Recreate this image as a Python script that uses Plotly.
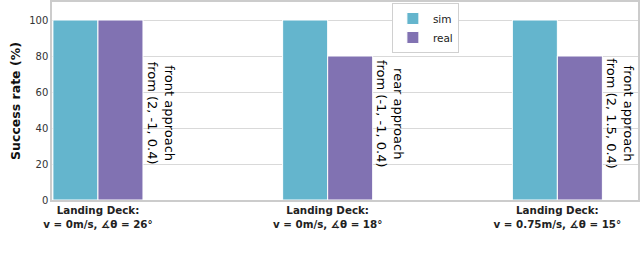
import plotly.graph_objects as go

categories = ["Landing Deck:<br>v = 0m/s, ∡θ = 26°",
              "Landing Deck:<br>v = 0m/s, ∡θ = 18°",
              "Landing Deck:<br>v = 0.75m/s, ∡θ = 15°"]
sim_values = [100, 100, 100]
real_values = [100, 80, 80]
approach_labels = ["front approach<br>from (2, -1, 0.4)",
                   "rear approach<br>from (-1, -1, 0.4)",
                   "front approach<br>from (2, 1.5, 0.4)"]
yticks = [0, 20, 40, 60, 80, 100]

x_pos = list(range(len(categories)))
bw = 0.196

fig = go.Figure()
fig.add_trace(go.Bar(x=[p - bw / 2 for p in x_pos], y=sim_values, width=bw, name="sim",
                     marker=dict(color="#64B5CD", line=dict(color="white", width=1))))
fig.add_trace(go.Bar(x=[p + bw / 2 for p in x_pos], y=real_values, width=bw, name="real",
                     marker=dict(color="#8172B2", line=dict(color="white", width=1))))

for p, txt in zip(x_pos, approach_labels):
    fig.add_annotation(x=p + bw, y=48, xref="x", yref="y", text=txt, textangle=90,
                       showarrow=False, xanchor="left", yanchor="middle", align="center",
                       font=dict(family="DejaVu Sans", size=13, color="black"))

fig.add_annotation(x=0, y=-0.278, xref="paper", yref="paper", xanchor="left", yanchor="top",
                   text="Fig. 13: Results for the inclined deck landing experiments and",
                   showarrow=False, font=dict(family="Liberation Serif", size=17, color="black"))

fig.update_layout(
    width=640, height=259,
    margin=dict(l=52, r=2, t=2, b=59),
    plot_bgcolor="white", paper_bgcolor="white",
    barmode="overlay",
    showlegend=True,
    legend=dict(x=0.58, y=0.995, xanchor="left", yanchor="top",
                bgcolor="white", bordercolor="#d0d0d0", borderwidth=1,
                tracegroupgap=0, itemwidth=30,
                font=dict(family="DejaVu Sans", size=10.5, color="#222")),
    font=dict(family="DejaVu Sans"),
)
fig.update_xaxes(range=[-0.2, 2.351], tickvals=x_pos,
                 ticktext=["<b>" + c.replace("<br>", "</b><br><b>") + "</b>" for c in categories],
                 tickfont=dict(family="DejaVu Sans", size=10.3, color="#222"),
                 showgrid=False, showline=True, mirror=True, linecolor="#cccccc", linewidth=1.5,
                 ticks="", zeroline=False, automargin=False)
fig.update_yaxes(range=[0, 110], tickvals=yticks,
                 tickfont=dict(family="DejaVu Sans", size=10, color="#333"),
                 showgrid=True, gridcolor="#d9d9d9", gridwidth=1,
                 showline=True, mirror=True, linecolor="#cccccc", linewidth=1.5,
                 ticks="", zeroline=False, automargin=False,
                 title=dict(text="<b>Success rate (%)</b>", standoff=6,
                            font=dict(family="DejaVu Sans", size=12.5, color="#111")))

fig.write_html("out.html", config={"displayModeBar": False},
               post_script="document.body.style.margin='0';document.body.style.overflow='hidden';")
